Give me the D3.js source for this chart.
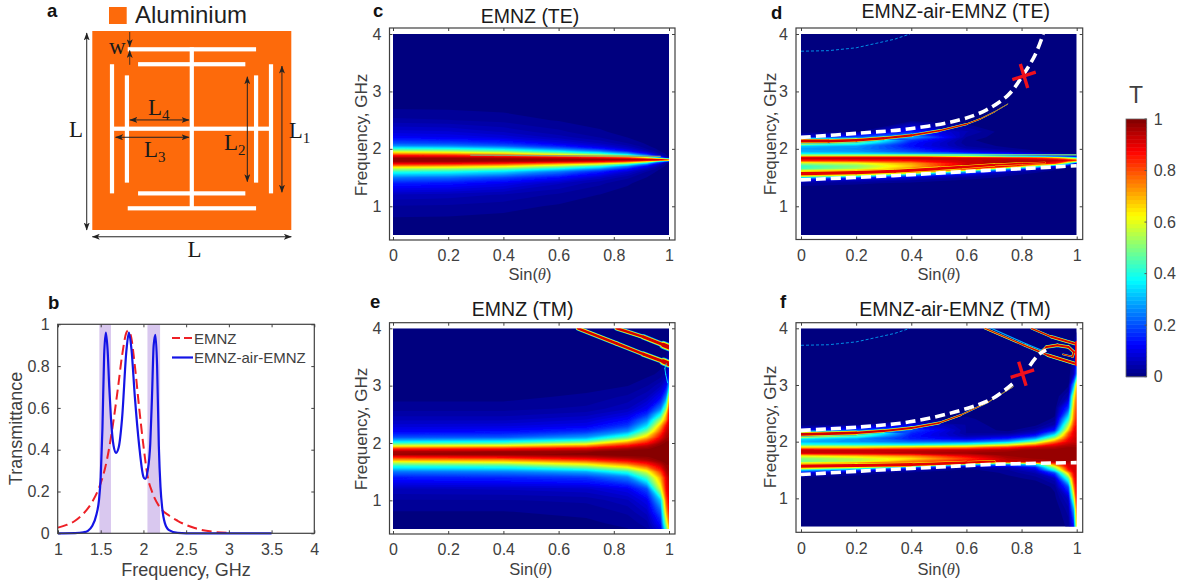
<!DOCTYPE html>
<html>
<head>
<meta charset="utf-8">
<script src="https://cdn.jsdelivr.net/npm/d3@7"></script>
<style>
  html, body { margin: 0; background: #fff; }
  svg { display: block; font-family: "Liberation Sans", Arial, sans-serif; }
</style>
</head>
<body>
<div id="chart"></div>
<script>
// --- Panel b: transmittance spectra ---
var emnzCurve = [[1,.027],[1.1,.04],[1.2,.06],[1.3,.095],[1.4,.15],[1.5,.24],[1.55,.31],[1.6,.41],[1.65,.54],[1.7,.69],[1.75,.85],[1.8,.96],[1.82,.97],[1.85,.95],[1.9,.8],[1.95,.6],[2,.42],[2.05,.27],[2.1,.2],[2.2,.12],[2.3,.085],[2.4,.06],[2.5,.04],[2.6,.025],[2.8,.008],[3,.002]];
var doubleCurve = [[1,0],[1.2,.001],[1.3,.005],[1.35,.012],[1.4,.035],[1.45,.09],[1.48,.16],[1.5,.27],[1.52,.5],[1.54,.85],[1.56,.96],[1.58,.88],[1.6,.7],[1.62,.55],[1.65,.42],[1.68,.385],[1.71,.41],[1.75,.55],[1.8,.87],[1.83,.96],[1.86,.88],[1.9,.65],[1.95,.42],[2,.27],[2.02,.26],[2.05,.3],[2.08,.43],[2.1,.65],[2.12,.9],[2.14,.95],[2.16,.8],[2.18,.42],[2.2,.22],[2.22,.12],[2.25,.05],[2.3,.015],[2.4,.002],[2.5,0],[3.5,0]];
var shadedBands = [[1.484,1.62],[2.047,2.195]];
var specXTicks = [1,1.5,2,2.5,3,3.5,4];
var specYTicks = [0,.2,.4,.6,.8,1];
var sinTicks = [0,.2,.4,.6,.8,1];
var freqTicks = [1,2,3,4];
var barTicks = [0,.2,.4,.6,.8,1];

// --- Panel c: T(f, sin), rows are frequency from low to high ---
var colsC = [0,.2,.4,.6,.75,.85,.92,.97,1];
var rowsC = [.5,.8,1,1.2,1.4,1.5,1.6,1.65,1.7,1.74,1.78,1.81,1.84,1.88,1.92,1.96,2,2.05,2.1,2.2,2.3,2.5,2.8,3.2,4];
var mapC = [
  [.006,.005,.004,.003,.002,.001,0,0,0],
  [.015,.014,.011,.007,.004,.002,.001,0,0],
  [.03,.028,.022,.013,.007,.004,.002,0,0],
  [.06,.055,.045,.028,.015,.008,.004,.001,0],
  [.15,.14,.11,.065,.035,.018,.008,.002,0],
  [.24,.23,.19,.13,.07,.035,.015,.004,0],
  [.41,.39,.34,.24,.15,.08,.03,.008,0],
  [.54,.52,.47,.36,.25,.14,.055,.014,0],
  [.72,.7,.65,.54,.42,.26,.12,.03,.002],
  [.88,.86,.82,.72,.62,.47,.26,.06,.003],
  [.97,.97,.96,.93,.88,.8,.62,.25,.05],
  [.98,.98,.98,.98,.98,.98,.97,.95,.8],
  [.97,.97,.96,.93,.9,.84,.66,.3,.05],
  [.87,.86,.82,.72,.62,.48,.27,.06,.003],
  [.72,.7,.65,.52,.4,.27,.12,.03,.002],
  [.55,.53,.47,.36,.25,.14,.055,.014,0],
  [.42,.4,.34,.24,.15,.08,.03,.008,0],
  [.27,.26,.22,.15,.09,.05,.018,.005,0],
  [.2,.19,.16,.1,.06,.03,.012,.003,0],
  [.12,.11,.09,.055,.03,.015,.006,.001,0],
  [.085,.08,.06,.035,.018,.009,.004,0,0],
  [.035,.032,.025,.014,.008,.004,.001,0,0],
  [.005,.005,.004,.002,.001,0,0,0,0],
  [.002,.002,.001,0,0,0,0,0,0],
  [0,0,0,0,0,0,0,0,0]
];

// --- Panel d ---
var colsD = [0,.2,.4,.6,.75,.85,.92,.97,1];
var rowsD = [.5,1.3,1.4,1.45,1.5,1.55,1.6,1.65,1.7,1.75,1.8,1.84,1.87,1.9,1.95,2,2.05,2.1,2.15,2.2,2.3,2.5,4];
var mapD = [
  [0,0,0,0,0,0,0,0,0],
  [0,0,0,0,0,0,0,0,0],
  [.03,.02,.01,0,0,0,0,0,0],
  [.09,.05,.03,.01,0,0,0,0,0],
  [.3,.18,.08,.03,.01,0,0,0,0],
  [.9,.65,.3,.08,.02,.01,0,0,0],
  [.72,.85,.85,.3,.06,.02,.01,0,0],
  [.45,.55,.75,.85,.3,.08,.02,.01,0],
  [.42,.5,.68,.95,.9,.5,.15,.02,0],
  [.55,.6,.72,.92,.96,.94,.85,.4,.05],
  [.85,.87,.88,.93,.95,.95,.95,.92,.85],
  [.95,.95,.95,.93,.9,.85,.75,.55,.4],
  [.7,.72,.7,.5,.3,.2,.12,.08,.05],
  [.42,.4,.35,.28,.2,.12,.08,.04,.02],
  [.3,.28,.2,.1,.05,.02,.01,0,0],
  [.28,.26,.16,.05,.02,.01,0,0,0],
  [.33,.28,.13,.03,.01,0,0,0,0],
  [.68,.45,.14,.02,.01,0,0,0,0],
  [.9,.6,.18,.02,0,0,0,0,0],
  [.08,.2,.3,.03,0,0,0,0,0],
  [0,.01,.15,.05,0,0,0,0,0],
  [0,0,0,0,0,0,0,0,0],
  [0,0,0,0,0,0,0,0,0]
];

// --- Panel e ---
var colsE = [0,.4,.7,.85,.92,.97,.99,1];
var rowsE = [.5,.6,.8,1,1.2,1.4,1.5,1.6,1.65,1.7,1.75,1.8,1.85,1.9,1.95,2,2.05,2.1,2.2,2.3,2.4,2.5,2.6,2.8,3,3.2,3.4,4];
var mapE = [
  [.006,.006,.01,.015,.03,.1,.45,.65],
  [.008,.008,.012,.02,.04,.14,.55,.75],
  [.015,.015,.02,.035,.07,.22,.7,.85],
  [.03,.03,.035,.06,.11,.33,.8,.9],
  [.06,.065,.075,.11,.2,.6,.88,.92],
  [.15,.16,.18,.25,.45,.72,.9,.95],
  [.24,.25,.3,.42,.6,.82,.95,.97],
  [.41,.43,.55,.68,.8,.92,.98,.98],
  [.54,.58,.68,.8,.88,.96,.99,.99],
  [.7,.72,.82,.9,.95,.99,.99,.99],
  [.85,.88,.93,.97,.98,1,1,1],
  [.97,.98,.99,1,1,1,1,1],
  [.96,.97,.98,1,1,1,1,1],
  [.82,.85,.9,.96,.98,1,1,1],
  [.6,.63,.73,.87,.94,.99,1,1],
  [.42,.44,.55,.75,.86,.97,.99,.99],
  [.29,.31,.38,.6,.78,.93,.98,.98],
  [.2,.21,.28,.46,.68,.89,.96,.97],
  [.12,.13,.17,.27,.5,.8,.93,.95],
  [.085,.09,.11,.18,.35,.7,.88,.93],
  [.06,.06,.08,.13,.25,.55,.75,.9],
  [.04,.04,.055,.09,.17,.38,.68,.88],
  [.025,.025,.035,.06,.11,.25,.5,.82],
  [.01,.01,.02,.035,.06,.12,.25,.6],
  [.004,.004,.008,.015,.03,.06,.12,.3],
  [.002,.002,.003,.005,.01,.02,.05,.12],
  [0,0,0,0,.003,.01,.02,.06],
  [0,0,0,0,0,0,0,0]
];

// --- Panel f ---
var colsF = [0,.2,.4,.6,.75,.85,.92,.97,.99,1];
var rowsF = [.5,.8,1,1.2,1.35,1.45,1.5,1.55,1.6,1.65,1.7,1.75,1.8,1.85,1.9,1.95,2,2.05,2.1,2.15,2.2,2.3,2.4,2.6,2.8,3,3.2,4];
var mapF = [
  [0,0,0,0,0,0,0,.02,.15,.65],
  [0,0,0,0,0,0,0,.04,.3,.8],
  [0,0,0,0,0,0,.01,.07,.55,.9],
  [0,0,0,0,0,0,.02,.2,.75,.92],
  [0,0,0,0,.01,.02,.06,.45,.85,.92],
  [.1,.03,.01,0,.02,.05,.2,.7,.9,.92],
  [.35,.2,.05,.01,.03,.08,.4,.85,.92,.92],
  [.85,.6,.25,.04,.06,.15,.55,.9,.92,.92],
  [.75,.9,.85,.35,.25,.35,.75,.92,.92,.92],
  [.48,.55,.75,.88,.93,.95,.96,.96,.96,.96],
  [.5,.55,.65,.82,.95,.97,.98,.98,.98,.98],
  [.62,.68,.75,.9,.97,.98,.98,.98,.98,.98],
  [.92,.93,.95,.97,.98,.98,.98,.98,.98,.98],
  [.93,.93,.93,.94,.96,.98,.98,.98,.98,.98],
  [.65,.63,.68,.72,.82,.92,.95,.97,.97,.97],
  [.4,.38,.36,.42,.55,.72,.88,.94,.95,.95],
  [.3,.27,.22,.22,.3,.5,.75,.9,.92,.93],
  [.35,.27,.15,.1,.16,.3,.58,.87,.92,.93],
  [.75,.45,.14,.05,.08,.16,.42,.82,.9,.92],
  [.9,.6,.16,.03,.03,.08,.28,.78,.9,.92],
  [.1,.2,.2,.03,.01,.04,.15,.68,.88,.9],
  [0,.01,.1,.03,0,.01,.05,.55,.82,.88],
  [0,0,0,.02,0,0,.02,.4,.76,.86],
  [0,0,0,0,0,0,0,.18,.7,.82],
  [0,0,0,0,0,0,0,.05,.6,.78],
  [0,0,0,0,0,0,0,.01,.3,.7],
  [0,0,0,0,0,0,0,0,.06,.25],
  [0,0,0,0,0,0,0,0,0,0]
];

// --- Narrow resonances too thin for the grids: [sin, f, half thickness in GHz] ---
var ridgeUpperD = [[0,2.135,.05],[.1,2.135,.045],[.2,2.15,.04],[.3,2.185,.035],[.4,2.235,.03],[.5,2.315,.024],[.6,2.43,.016],[.65,2.52,.013],[.7,2.64,.01],[.75,2.78,.005]];
var ridgeLowerD = [[0,1.57,.04],[.2,1.585,.04],[.34,1.61,.038],[.5,1.655,.036],[.58,1.68,.032],[.7,1.72,.026],[.8,1.745,.02],[.885,1.76,.014]];
var ridgeUpperF = [[0,2.13,.05],[.2,2.155,.04],[.3,2.19,.035],[.4,2.24,.03],[.5,2.33,.024],[.58,2.47,.016],[.68,2.7,.01],[.77,2.97,.004]];
var ridgeLowerF = [[0,1.57,.04],[.2,1.58,.04],[.4,1.595,.036],[.6,1.63,.03],[.7,1.65,.024]];
var diagLowE = [[.67,4,.04],[.81,3.735,.04],[.907,3.55,.04],[.98,3.42,.055],[1,3.38,.085]];
var diagHighE = [[.81,4,.04],[.907,3.85,.04],[.98,3.71,.055],[1,3.67,.085]];
var rimE = [[.995,3.05,.008],[.988,3.2,.008],[.985,3.3,.008],[.99,3.38,.008]];
var diagLowF = [[.667,4,.02],[.81,3.7,.02],[.896,3.525,.026],[.993,3.38,.04]];
var diagLowF2 = [[.69,4,.01],[.82,3.72,.01],[.88,3.6,.01]];
var diagHighF = [[.836,4,.02],[.908,3.85,.022],[.993,3.73,.04]];
var eyeF = [[.87,3.58,.02],[.89,3.67,.03],[.93,3.7,.035],[.97,3.67,.03],[.99,3.58,.03],[.985,3.5,.02],[.95,3.54,.012]];
var edgeF = [[1,3.36,.03],[1,3.75,.03]];
var arcTop = [[0,3.7],[.1,3.71],[.2,3.76],[.275,3.84],[.34,3.91],[.395,4]];
var thinLineC = [[.28,1.89],[.97,1.87]];
var thinLineD = [[0,1.895],[1,1.895]];

// --- Dashed white guides and red crosses ---
var dashUpperD = [[0,2.2],[.214,2.275],[.395,2.35],[.577,2.506],[.673,2.68],[.752,2.94],[.806,3.29],[.849,3.635],[.879,4]];
var dashLowerD = [[0,1.46],[.335,1.533],[.577,1.6],[.82,1.66],[1,1.707]];
var dashUpperF1 = [[0,2.2],[.214,2.26],[.395,2.35],[.577,2.55],[.698,2.77],[.767,3.02]];
var dashUpperF2 = [[.83,3.34],[.861,3.53],[.889,3.62]];
var dashLowerF = [[0,1.42],[.214,1.48],[.456,1.54],[.698,1.6],[1,1.63]];
var crossD = [.809,3.27];
var crossF = [.803,3.2];

// --- Panel a, in fractions of the cell side L ---
var slitsH = [[.178,.823,.092],[.23,.769,.167],[.23,.769,.816],[.178,.823,.891],[.089,.889,.491]];
var slitsV = [[.5,.082,.889],[.099,.167,.816],[.174,.223,.762],[.823,.223,.762],[.898,.167,.816]];
var arrows = [[-.028,.01,-.028,1],[0,1.034,1,1.034],[.189,.447,.486,.447],[.117,.534,.486,.534],[.779,.23,.779,.757],[.953,.176,.953,.81]];

var width = 1179, height = 586;
var svg = d3.select("#chart").append("svg")
  .attr("width", width)
  .attr("height", height);
var defs = svg.append("defs");

var ink = "#404040";
var jet = d3.scaleLinear()
  .domain([0,.125,.375,.625,.875,1])
  .range(["#00007f","#0000ff","#00ffff","#ffff00","#ff0000","#7f0000"]);
var levels = d3.range(1, 64).map(i => i / 64);

defs.append("filter").attr("id", "soft")
  .append("feGaussianBlur").attr("stdDeviation", .5);

// --- Boxed axes, ticks pointing in on all four sides ---
function drawAxes(g, scX, scY, box, xVals, yVals) {
  g.append("rect")
    .attr("x", box[0]).attr("y", box[1])
    .attr("width", box[2] - box[0]).attr("height", box[3] - box[1])
    .attr("fill", "none").attr("stroke", ink).attr("stroke-width", 1.2);

  var dress = function(a) {
    a.select(".domain").remove();
    a.selectAll("line").attr("stroke", ink);
    a.selectAll("text").attr("fill", ink).style("font-size", "16px").style("font-family", "inherit");
  };
  g.append("g").attr("transform", `translate(0,${box[3]})`)
    .call(d3.axisBottom(scX).tickValues(xVals).tickSize(-3).tickPadding(10).tickFormat(d => d))
    .call(dress);
  g.append("g").attr("transform", `translate(0,${box[1]})`)
    .call(d3.axisTop(scX).tickValues(xVals).tickSize(-3).tickFormat(""))
    .call(dress);
  g.append("g").attr("transform", `translate(${box[0]},0)`)
    .call(d3.axisLeft(scY).tickValues(yVals).tickSize(-3).tickPadding(8).tickFormat(d => d))
    .call(dress);
  g.append("g").attr("transform", `translate(${box[2]},0)`)
    .call(d3.axisRight(scY).tickValues(yVals).tickSize(-3).tickFormat(""))
    .call(dress);
}

function axisText(g, txt, x, y, size, rotate) {
  return g.append("text")
    .attr("transform", `translate(${x},${y})` + (rotate ? " rotate(-90)" : ""))
    .attr("text-anchor", "middle")
    .attr("fill", ink)
    .style("font-size", size + "px")
    .text(txt);
}

// Grid values sit at cell centres in d3.contours, so map those back to data units.
function indexScale(vals) {
  var dom = [0], rng = [vals[0]];
  vals.forEach((v, i) => { dom.push(i + .5); rng.push(v); });
  dom.push(vals.length); rng.push(vals[vals.length - 1]);
  return d3.scaleLinear().domain(dom).range(rng);
}

function drawMap(g, cols, rows, map, scX, scY) {
  g.append("rect")
    .attr("x", scX(0)).attr("y", scY(4))
    .attr("width", scX(1) - scX(0)).attr("height", scY(.5) - scY(4))
    .attr("fill", jet(0));

  var ixS = indexScale(cols), ixF = indexScale(rows);
  var path = d3.geoPath(d3.geoTransform({
    point: function(i, j) { this.stream.point(scX(ixS(i)), scY(ixF(j))); }
  }));
  var bands = d3.contours()
    .size([cols.length, rows.length])
    .thresholds(levels)(map.flat());

  g.selectAll("path.band")
    .data(bands)
    .enter().append("path")
    .attr("class", "band")
    .attr("d", path)
    .attr("fill", d => jet(d.value + 1 / 128));
}

function drawRidge(g, pts, layers, scX, scY) {
  var pxPerGHz = Math.abs(scY(1) - scY(0));
  var lnMkr = d3.line().x(d => scX(d[0])).y(d => scY(d[1]));
  layers.forEach(function(l) {
    d3.pairs(pts).forEach(function(seg) {
      var w = (seg[0][2] + seg[1][2]) * pxPerGHz * l[0];
      g.append("path")
        .attr("d", lnMkr(seg))
        .attr("fill", "none")
        .attr("stroke", jet(l[1]))
        .attr("stroke-width", w)
        .attr("stroke-linecap", "round");
    });
  });
}

function drawThin(g, pts, color, w, dash, scX, scY) {
  g.append("path")
    .attr("d", d3.line().x(d => scX(d[0])).y(d => scY(d[1]))(pts))
    .attr("fill", "none")
    .attr("stroke", color)
    .attr("stroke-width", w)
    .attr("stroke-dasharray", dash);
}

function drawDash(g, pts, scX, scY) {
  g.append("path")
    .attr("d", d3.line().curve(d3.curveCatmullRom).x(d => scX(d[0])).y(d => scY(d[1]))(pts))
    .attr("fill", "none")
    .attr("stroke", "#fff")
    .attr("stroke-width", 3.6)
    .attr("stroke-dasharray", "10 5");
}

function drawCross(g, pt, scX, scY) {
  var cx = scX(pt[0]), cy = scY(pt[1]);
  g.append("path")
    .attr("d", `M${cx - 3.7},${cy - 12}L${cx + 3.7},${cy + 12}M${cx - 11.7},${cy + 3.7}L${cx + 11.7},${cy - 3.7}`)
    .attr("fill", "none")
    .attr("stroke", "#f0101c")
    .attr("stroke-width", 3.4);
}

// Layer lists: [fraction of half thickness, T of the colour]
var fullLayers = [[1,.3],[.8,.62],[.55,.92]];
var softLayers = [[1,.62],[.7,.9]];

function mapPanel(id, geo, cols, rows, map, overlay, title, titleAt, sinAt, freqAt) {
  var scX = d3.scaleLinear().domain([0,1]).range([geo.x0, geo.x1]);
  var scY = d3.scaleLinear().domain([.5,4]).range([geo.y0, geo.y1]);
  var g = svg.append("g");

  defs.append("clipPath").attr("id", "clip-" + id)
    .append("rect")
    .attr("x", geo.x0).attr("y", geo.y1)
    .attr("width", geo.x1 - geo.x0).attr("height", geo.y0 - geo.y1);

  var plot = g.append("g").attr("clip-path", `url(#clip-${id})`)
    .append("g").attr("filter", "url(#soft)");
  drawMap(plot, cols, rows, map, scX, scY);
  overlay(plot, scX, scY);

  drawAxes(g, scX, scY, geo.box, sinTicks, freqTicks);

  axisText(g, title, titleAt[0], titleAt[1], 19.5).attr("fill", "#1a1a1a");
  axisText(g, "Frequency, GHz", freqAt[0], freqAt[1], 17, true);
  var sin = axisText(g, "Sin(", sinAt[0], sinAt[1], 16.5);
  sin.append("tspan").style("font-family", "'Liberation Serif', serif").style("font-style", "italic").text("θ");
  sin.append("tspan").text(")");
  return { g: g, scX: scX, scY: scY };
}

// --- Panel c ---
mapPanel("c", { x0: 393, x1: 669, y0: 235, y1: 34, box: [389.5, 28, 675, 240] }, colsC, rowsC, mapC,
  function(p, scX, scY) {
    drawThin(p, thinLineC, "#8f9f70", 1.2, null, scX, scY);
  }, "EMNZ (TE)", [530, 23], [530, 280], [367, 135]);

// --- Panel d ---
var pd = mapPanel("d", { x0: 801, x1: 1076.7, y0: 235, y1: 34, box: [796, 28, 1082.7, 239.5] }, colsD, rowsD, mapD,
  function(p, scX, scY) {
    drawThin(p, thinLineD, jet(.5), 1.2, null, scX, scY);
    drawRidge(p, ridgeLowerD, softLayers, scX, scY);
    drawRidge(p, ridgeUpperD, fullLayers, scX, scY);
    drawThin(p, arcTop, jet(.3), .8, "3 2", scX, scY);
  }, "EMNZ-air-EMNZ (TE)", [955.7, 18], [939, 280], [776, 134]);
drawDash(pd.g, dashUpperD, pd.scX, pd.scY);
drawDash(pd.g, dashLowerD, pd.scX, pd.scY);
drawCross(pd.g, crossD, pd.scX, pd.scY);

// --- Panel e ---
mapPanel("e", { x0: 393, x1: 669, y0: 529, y1: 328.3, box: [389.5, 322.7, 675, 534] }, colsE, rowsE, mapE,
  function(p, scX, scY) {
    drawRidge(p, diagLowE, fullLayers, scX, scY);
    drawRidge(p, diagHighE, fullLayers, scX, scY);
    drawRidge(p, rimE, [[1,.35]], scX, scY);
  }, "EMNZ (TM)", [522.7, 316], [530.7, 575], [367, 429]);

// --- Panel f ---
var pf = mapPanel("f", { x0: 801, x1: 1076.7, y0: 526.7, y1: 328.3, box: [796, 322.7, 1082.7, 532.3] }, colsF, rowsF, mapF,
  function(p, scX, scY) {
    drawRidge(p, ridgeLowerF, softLayers, scX, scY);
    drawRidge(p, ridgeUpperF, fullLayers, scX, scY);
    drawThin(p, arcTop, jet(.3), .8, "3 2", scX, scY);
    drawRidge(p, diagLowF2, [[1,.3]], scX, scY);
    drawRidge(p, diagLowF, fullLayers, scX, scY);
    drawRidge(p, diagHighF, fullLayers, scX, scY);
    drawRidge(p, eyeF, fullLayers, scX, scY);
    drawRidge(p, edgeF, [[1,.88]], scX, scY);
  }, "EMNZ-air-EMNZ (TM)", [955, 316], [939, 575], [776, 427]);
drawDash(pf.g, dashUpperF1, pf.scX, pf.scY);
drawDash(pf.g, dashUpperF2, pf.scX, pf.scY);
drawDash(pf.g, dashLowerF, pf.scX, pf.scY);
drawCross(pf.g, crossF, pf.scX, pf.scY);

// --- Panel b ---
var specX = d3.scaleLinear().domain([1,4]).range([58, 314.3]);
var specY = d3.scaleLinear().domain([0,1]).range([533.3, 324.3]);
var gb = svg.append("g");

gb.selectAll("rect.shade")
  .data(shadedBands)
  .enter().append("rect")
  .attr("class", "shade")
  .attr("x", d => specX(d[0]))
  .attr("width", d => specX(d[1]) - specX(d[0]))
  .attr("y", specY(1))
  .attr("height", specY(0) - specY(1))
  .attr("fill", "#d9c8ef");

var specLine = d3.line().curve(d3.curveMonotoneX).x(d => specX(d[0])).y(d => specY(d[1]));
gb.append("path").attr("d", specLine(emnzCurve))
  .attr("fill", "none").attr("stroke", "#ee2026").attr("stroke-width", 2).attr("stroke-dasharray", "10 5");
gb.append("path").attr("d", specLine(doubleCurve))
  .attr("fill", "none").attr("stroke", "#1414e6").attr("stroke-width", 2.2);

drawAxes(gb, specX, specY, [57.7, 324.3, 314.3, 533.3], specXTicks, specYTicks);
axisText(gb, "Frequency, GHz", 186, 576, 18);
axisText(gb, "Transmittance", 21.5, 428.5, 18, true);

gb.append("line").attr("x1", 172).attr("x2", 193).attr("y1", 338).attr("y2", 338)
  .attr("stroke", "#ee2026").attr("stroke-width", 2).attr("stroke-dasharray", "8 4");
gb.append("line").attr("x1", 172).attr("x2", 193).attr("y1", 357.5).attr("y2", 357.5)
  .attr("stroke", "#1414e6").attr("stroke-width", 2.2);
gb.append("text").attr("x", 194).attr("y", 343.5).attr("fill", ink).style("font-size", "15px").text("EMNZ");
gb.append("text").attr("x", 194).attr("y", 363).attr("fill", ink).style("font-size", "15px").text("EMNZ-air-EMNZ");

// --- Panel a ---
var cellX = d3.scaleLinear().domain([0,1]).range([92.3, 291.3]);
var cellY = d3.scaleLinear().domain([0,1]).range([31, 230]);
var slit = 4.2;
var ga = svg.append("g");

defs.append("marker").attr("id", "head")
  .attr("viewBox", "0 0 8 6").attr("refX", 7.5).attr("refY", 3)
  .attr("markerWidth", 8).attr("markerHeight", 6)
  .attr("markerUnits", "userSpaceOnUse")
  .attr("orient", "auto-start-reverse")
  .append("path").attr("d", "M0,0L8,3L0,6L2,3Z").attr("fill", "#222");

ga.append("rect").attr("x", 109).attr("y", 7).attr("width", 17.7).attr("height", 17).attr("fill", "#fd6a0b");
ga.append("text").attr("x", 135).attr("y", 23).attr("fill", "#1f1f1f").style("font-size", "24px").text("Aluminium");
ga.append("rect")
  .attr("x", cellX(0)).attr("y", cellY(0))
  .attr("width", cellX(1) - cellX(0)).attr("height", cellY(1) - cellY(0))
  .attr("fill", "#fd6a0b");

ga.selectAll("rect.h").data(slitsH).enter().append("rect").attr("class", "h")
  .attr("x", d => cellX(d[0])).attr("width", d => cellX(d[1]) - cellX(d[0]))
  .attr("y", d => cellY(d[2]) - slit / 2).attr("height", slit).attr("fill", "#fff");
ga.selectAll("rect.v").data(slitsV).enter().append("rect").attr("class", "v")
  .attr("y", d => cellY(d[1])).attr("height", d => cellY(d[2]) - cellY(d[1]))
  .attr("x", d => cellX(d[0]) - slit / 2).attr("width", slit).attr("fill", "#fff");

ga.selectAll("line.dim").data(arrows).enter().append("line").attr("class", "dim")
  .attr("x1", d => cellX(d[0])).attr("y1", d => cellY(d[1]))
  .attr("x2", d => cellX(d[2])).attr("y2", d => cellY(d[3]))
  .attr("stroke", "#222").attr("stroke-width", 1)
  .attr("marker-start", "url(#head)").attr("marker-end", "url(#head)");

// the two short w arrows point at the slit from either side
[[.188,.005,.188,.079],[.188,.17,.188,.098]].forEach(function(d) {
  ga.append("line")
    .attr("x1", cellX(d[0])).attr("y1", cellY(d[1]))
    .attr("x2", cellX(d[2])).attr("y2", cellY(d[3]))
    .attr("stroke", "#222").attr("stroke-width", .8)
    .attr("marker-end", "url(#head)");
});

function symbol(txt, sub, x, y) {
  var t = ga.append("text").attr("x", x).attr("y", y)
    .attr("fill", "#1a1a1a")
    .style("font-family", "'Liberation Serif', serif")
    .style("font-size", "23px")
    .text(txt);
  if (sub) t.append("tspan").attr("dy", 5).style("font-size", "15px").text(sub);
}
symbol("L", null, 69, 137);
symbol("L", null, 187.5, 256.5);
symbol("L", "4", 148, 115);
symbol("L", "3", 144, 157);
symbol("L", "2", 224, 150);
symbol("L", "1", 288.7, 138);
symbol("w", null, 109, 54);

// --- Colour bar ---
var barY = d3.scaleLinear().domain([0,1]).range([376.7, 119]);
var gc = svg.append("g");
var barSteps = d3.range(0, 64).map(i => i / 64);
gc.selectAll("rect.step")
  .data(barSteps)
  .enter().append("rect")
  .attr("class", "step")
  .attr("x", 1126).attr("width", 20.7)
  .attr("y", d => barY(d + 1 / 64))
  .attr("height", d => barY(d) - barY(d + 1 / 64) + .5)
  .attr("fill", d => jet(d + 1 / 128));
gc.append("rect").attr("x", 1126).attr("y", 119).attr("width", 20.7).attr("height", 257.7)
  .attr("fill", "none").attr("stroke", "#666").attr("stroke-width", .8);
gc.append("g").attr("transform", "translate(1146.7,0)")
  .call(d3.axisRight(barY).tickValues(barTicks).tickSize(0).tickPadding(7).tickFormat(d => d))
  .call(a => a.select(".domain").remove())
  .call(a => a.selectAll("text").attr("fill", ink).style("font-size", "16px").style("font-family", "inherit"));
gc.selectAll("line.tick").data(barTicks).enter().append("line").attr("class", "tick")
  .attr("x1", 1144.5).attr("x2", 1146.7)
  .attr("y1", d => barY(d)).attr("y2", d => barY(d))
  .attr("stroke", "#555");
gc.append("text").attr("x", 1136).attr("y", 103).attr("text-anchor", "middle")
  .attr("fill", ink).style("font-size", "23px").text("T");

// --- Panel letters ---
var panelLetters = ["a","b","c","d","e","f"];
var letterSpots = [[47,17],[48,309],[373,17],[771,19],[370,308],[780,308]];
svg.selectAll("text.letter")
  .data(panelLetters)
  .enter().append("text")
  .attr("class", "letter")
  .attr("x", (d, i) => letterSpots[i][0])
  .attr("y", (d, i) => letterSpots[i][1])
  .attr("fill", "#111")
  .style("font-size", "18.5px")
  .style("font-weight", "bold")
  .text(d => d);
</script>
</body>
</html>
